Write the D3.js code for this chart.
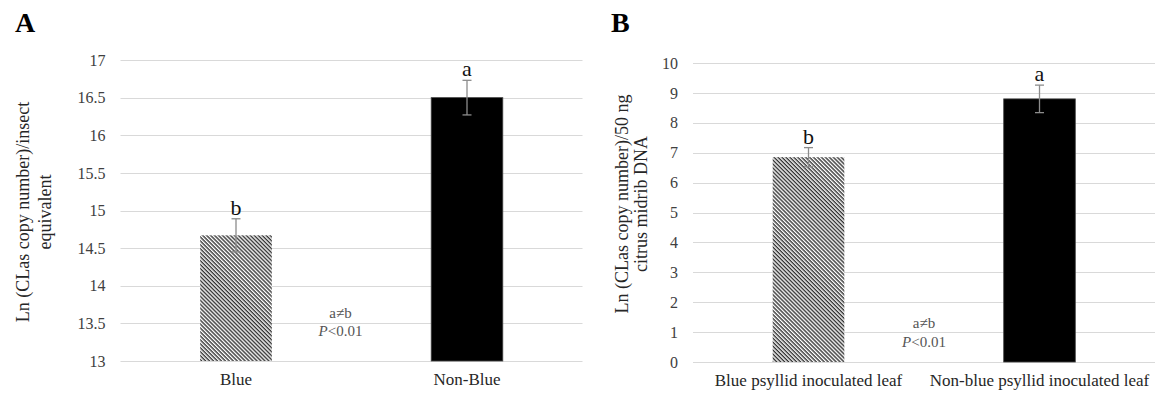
<!DOCTYPE html>
<html>
<head>
<meta charset="utf-8">
<script src="https://cdn.jsdelivr.net/npm/d3@7"></script>
<style>
  html, body { margin: 0; padding: 0; background: #fff; }
  svg { display: block; }
  svg text { font-family: "Liberation Serif", "Times New Roman", serif !important; }
</style>
</head>
<body>
<div id="chart"></div>
<script>
// panel A: insects
const catsA = ['Blue', 'Non-Blue'];
const valsA = [14.67, 16.5];
const errA = [0.22, 0.23];
const lettersA = ['b', 'a'];
const ticksA = [13, 13.5, 14, 14.5, 15, 15.5, 16, 16.5, 17];

// panel B: leaves
const catsB = ['Blue psyllid inoculated leaf', 'Non-blue psyllid inoculated leaf'];
const valsB = [6.85, 8.8];
const errB = [0.32, 0.46];
const lettersB = ['b', 'a'];
const ticksB = [0, 1, 2, 3, 4, 5, 6, 7, 8, 9, 10];

const width = 1171, height = 394;

const svg = d3.select('#chart')
  .append('svg')
    .attr('width', width)
    .attr('height', height);

// hatch for the "blue" bars
const defs = svg.append('defs');
const pat = defs.append('pattern')
  .attr('id', 'hatch')
  .attr('patternUnits', 'userSpaceOnUse')
  .attr('width', 2.8)
  .attr('height', 2.8)
  .attr('patternTransform', 'rotate(45)');
pat.append('rect').attr('width', 2.8).attr('height', 2.8).attr('fill', '#fff');
pat.append('rect').attr('width', 2.8).attr('height', 1.4).attr('fill', '#333');

const panels = [
  {
    letter: 'A', letterX: 15, cats: catsA, vals: valsA, errs: errA, letters: lettersA, ticks: ticksA,
    x0: 120.5, x1: 582.5, yTop: 60, yBot: 361, domain: [13, 17],
    title: ['Ln (CLas copy number)/insect', 'equivalent'], titleX: [29, 51], titleY: 212,
    noteDx: -11, noteY: [318, 336]
  },
  {
    letter: 'B', letterX: 611, cats: catsB, vals: valsB, errs: errB, letters: lettersB, ticks: ticksB,
    x0: 693, x1: 1155, yTop: 63, yBot: 362, domain: [0, 10],
    title: ['Ln (CLas copy number)/50 ng', 'citrus midrib DNA'], titleX: [628, 647], titleY: 204,
    noteDx: 0, noteY: [328, 347]
  }
];

panels.forEach(p => {
  const g = svg.append('g');

  const x = d3.scaleBand()
    .domain(p.cats)
    .range([p.x0, p.x1])
    .paddingInner(0.69)
    .paddingOuter(0.345);

  const y = d3.scaleLinear()
    .domain(p.domain)
    .range([p.yBot, p.yTop]);

  // gridlines
  g.append('g')
    .selectAll('line')
    .data(p.ticks)
  .enter().append('line')
    .attr('x1', p.x0)
    .attr('x2', p.x1)
    .attr('y1', d => Math.round(y(d)) + 0.5)
    .attr('y2', d => Math.round(y(d)) + 0.5)
    .attr('stroke', '#d9d9d9')
    .attr('stroke-width', 1);

  // y axis labels
  const yAxis = g.append('g')
    .attr('transform', `translate(${p.x0},0)`)
    .call(d3.axisLeft(y).tickValues(p.ticks).tickSize(0).tickPadding(15).tickFormat(d3.format('')));
  yAxis.select('.domain').remove();
  yAxis.selectAll('text')
    .attr('font-size', 16)
    .attr('fill', '#404040');

  // x axis labels
  const xAxis = g.append('g')
    .attr('transform', `translate(0,${p.yBot})`)
    .call(d3.axisBottom(x).tickSize(0).tickPadding(12));
  xAxis.select('.domain').remove();
  xAxis.selectAll('text')
    .attr('font-size', 17)
    .attr('fill', '#262626');

  // bars
  g.selectAll('.bar')
    .data(p.vals)
  .enter().append('rect')
    .attr('class', 'bar')
    .attr('x', (d, i) => x(p.cats[i]))
    .attr('width', x.bandwidth())
    .attr('y', d => y(d))
    .attr('height', d => y(p.domain[0]) - y(d))
    .attr('fill', (d, i) => i === 0 ? 'url(#hatch)' : '#000')
    .attr('stroke', (d, i) => i === 0 ? 'none' : '#444')
    .attr('stroke-width', 0.8);

  // error bars
  const eb = g.selectAll('.err')
    .data(p.vals)
  .enter().append('g')
    .attr('class', 'err')
    .attr('stroke', '#8c8c8c')
    .attr('stroke-width', 1.3);
  const cx = i => x(p.cats[i]) + x.bandwidth() / 2;
  eb.append('line')
    .attr('x1', (d, i) => cx(i)).attr('x2', (d, i) => cx(i))
    .attr('y1', (d, i) => y(d + p.errs[i]))
    .attr('y2', (d, i) => y(d - p.errs[i]));
  eb.append('line')
    .attr('x1', (d, i) => cx(i) - 4.5).attr('x2', (d, i) => cx(i) + 4.5)
    .attr('y1', (d, i) => y(d + p.errs[i]))
    .attr('y2', (d, i) => y(d + p.errs[i]));
  eb.append('line')
    .attr('x1', (d, i) => cx(i) - 4.5).attr('x2', (d, i) => cx(i) + 4.5)
    .attr('y1', (d, i) => y(d - p.errs[i]))
    .attr('y2', (d, i) => y(d - p.errs[i]));

  // significance letters
  g.selectAll('.sig')
    .data(p.letters)
  .enter().append('text')
    .attr('class', 'sig')
    .attr('x', (d, i) => cx(i))
    .attr('y', (d, i) => y(p.vals[i] + p.errs[i]) - 4)
    .attr('text-anchor', 'middle')
    .attr('font-size', 22)
    .attr('fill', '#111')
    .text(d => d);

  // note between bars
  const mid = (cx(0) + cx(1)) / 2 + p.noteDx;
  g.append('text')
    .attr('x', mid).attr('y', p.noteY[0])
    .attr('text-anchor', 'middle')
    .attr('font-size', 15)
    .attr('fill', '#555')
    .text('a≠b');
  const pt = g.append('text')
    .attr('x', mid).attr('y', p.noteY[1])
    .attr('text-anchor', 'middle')
    .attr('font-size', 15)
    .attr('fill', '#555');
  pt.append('tspan').attr('font-style', 'italic').text('P');
  pt.append('tspan').text('<0.01');

  // y title
  p.title.forEach((t, i) => {
    g.append('text')
      .attr('transform', `translate(${p.titleX[i]},${p.titleY}) rotate(-90)`)
      .attr('text-anchor', 'middle')
      .attr('font-size', 18)
      .attr('fill', '#262626')
      .text(t);
  });

  // panel letter
  g.append('text')
    .attr('x', p.letterX)
    .attr('y', 32)
    .attr('font-size', 28)
    .attr('font-weight', 'bold')
    .attr('fill', '#000')
    .text(p.letter);
});
</script>
</body>
</html>
